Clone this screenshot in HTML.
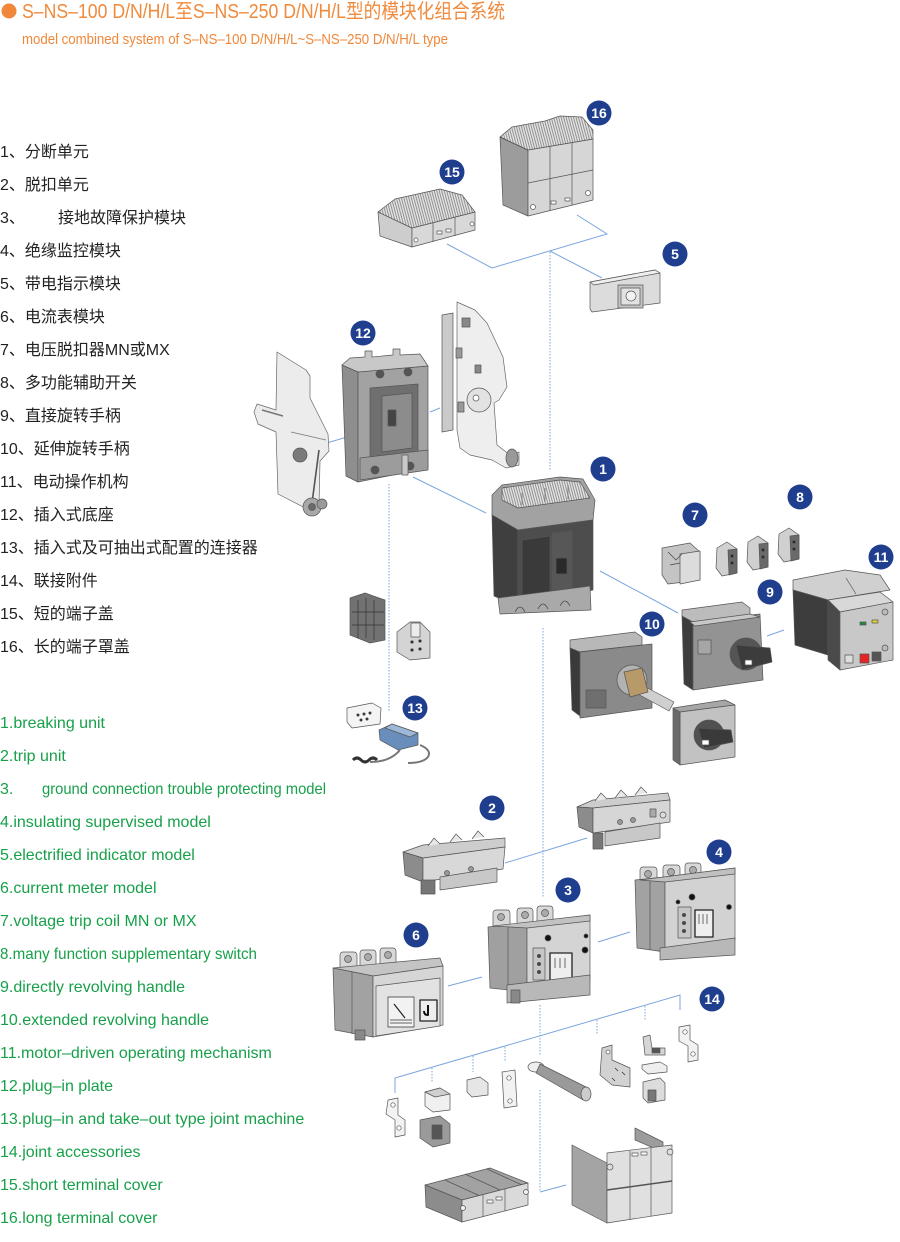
<!DOCTYPE html>
<html><head><meta charset="utf-8">
<style>
html,body{margin:0;padding:0;background:#fff;}
body{width:900px;height:1242px;position:relative;overflow:hidden;}
svg{position:absolute;left:0;top:0;}
</style></head>
<body>
<svg width="900" height="1242" viewBox="0 0 900 1242" xmlns="http://www.w3.org/2000/svg">
<defs>
<pattern id="rib" width="2.4" height="6" patternUnits="userSpaceOnUse" patternTransform="rotate(-15)"><rect width="2.4" height="6" fill="#e2e2e2"/><rect width="0.9" height="6" fill="#8a8a8a"/></pattern>
</defs>

<!-- Header -->
<circle cx="9" cy="11" r="7.5" fill="#f0873a"/>
<text x="22" y="18" font-size="20" fill="#f08a3c" textLength="483" lengthAdjust="spacingAndGlyphs" font-family="'Liberation Sans','Noto Sans CJK SC',sans-serif">S–NS–100 D/N/H/L至S–NS–250 D/N/H/L型的模块化组合系统</text>
<text x="22" y="44" font-size="15" fill="#f0883a" textLength="426" lengthAdjust="spacingAndGlyphs" font-family="'Liberation Sans',sans-serif">model combined system of S–NS–100 D/N/H/L~S–NS–250 D/N/H/L type</text>

<!-- Chinese list -->
<g font-size="16" fill="#222" font-family="'Liberation Sans','Noto Sans CJK SC',sans-serif">
<text x="0" y="157">1、分断单元</text>
<text x="0" y="190">2、脱扣单元</text>
<text x="0" y="223">3、</text><text x="58" y="223">接地故障保护模块</text>
<text x="0" y="256">4、绝缘监控模块</text>
<text x="0" y="289">5、带电指示模块</text>
<text x="0" y="322">6、电流表模块</text>
<text x="0" y="355">7、电压脱扣器MN或MX</text>
<text x="0" y="388">8、多功能辅助开关</text>
<text x="0" y="421">9、直接旋转手柄</text>
<text x="0" y="454">10、延伸旋转手柄</text>
<text x="0" y="487">11、电动操作机构</text>
<text x="0" y="520">12、插入式底座</text>
<text x="0" y="553">13、插入式及可抽出式配置的连接器</text>
<text x="0" y="586">14、联接附件</text>
<text x="0" y="619">15、短的端子盖</text>
<text x="0" y="652">16、长的端子罩盖</text>
</g>

<!-- English list -->
<g font-size="16" fill="#17a04a" font-family="'Liberation Sans',sans-serif">
<text x="0" y="728">1.breaking unit</text>
<text x="0" y="761">2.trip unit</text>
<text x="0" y="794">3.</text><text x="42" y="794" textLength="284" lengthAdjust="spacingAndGlyphs">ground connection trouble protecting model</text>
<text x="0" y="827">4.insulating supervised model</text>
<text x="0" y="860">5.electrified indicator model</text>
<text x="0" y="893">6.current meter model</text>
<text x="0" y="926">7.voltage trip coil MN or MX</text>
<text x="0" y="959" textLength="257" lengthAdjust="spacingAndGlyphs">8.many function supplementary switch</text>
<text x="0" y="992">9.directly revolving handle</text>
<text x="0" y="1025">10.extended revolving handle</text>
<text x="0" y="1058">11.motor–driven operating mechanism</text>
<text x="0" y="1091">12.plug–in plate</text>
<text x="0" y="1124">13.plug–in and take–out type joint machine</text>
<text x="0" y="1157">14.joint accessories</text>
<text x="0" y="1190">15.short terminal cover</text>
<text x="0" y="1223">16.long terminal cover</text>
</g>

<!-- Connectors -->
<g stroke="#7aa6dc" stroke-width="1" fill="none">
<polyline points="447,244 492,268 607,234 577,215"/>
<line x1="550" y1="251" x2="602" y2="278"/>
<line x1="550" y1="252" x2="550" y2="470" stroke-dasharray="1.5 1.5"/>
<line x1="320" y1="445" x2="347" y2="437"/>
<line x1="430" y1="412" x2="440" y2="408"/>
<line x1="413" y1="477" x2="486" y2="513"/>
<line x1="389" y1="484" x2="389" y2="712" stroke-dasharray="1.5 1.5"/>
<line x1="600" y1="571" x2="678" y2="613"/>
<line x1="767" y1="636" x2="784" y2="630"/>
<line x1="543" y1="628" x2="543" y2="898" stroke-dasharray="1.5 1.5"/>
<line x1="505" y1="863" x2="587" y2="838"/>
<line x1="448" y1="986" x2="482" y2="977"/>
<line x1="598" y1="942" x2="630" y2="932"/>
<line x1="540" y1="1005" x2="540" y2="1056" stroke-dasharray="1.5 1.5"/>
<line x1="540" y1="1090" x2="540" y2="1192" stroke-dasharray="1.5 1.5"/>
<line x1="540" y1="1192" x2="566" y2="1185"/>
<polyline points="395,1093 395,1078 680,995 680,1010"/>
<line x1="432" y1="1068" x2="432" y2="1083" stroke-dasharray="1.5 1.5"/>
<line x1="473" y1="1056" x2="473" y2="1072" stroke-dasharray="1.5 1.5"/>
<line x1="505" y1="1047" x2="505" y2="1062" stroke-dasharray="1.5 1.5"/>
<line x1="597" y1="1020" x2="597" y2="1035" stroke-dasharray="1.5 1.5"/>
<line x1="645" y1="1006" x2="645" y2="1021" stroke-dasharray="1.5 1.5"/>
</g>

<g stroke="#555" stroke-width="0.7" stroke-linejoin="round">
<!-- 16 long terminal cover -->
<polygon points="500,137 528,150 528,216 503,205" fill="#9c9c9c"/>
<polygon points="528,150 593,139 593,200 528,216" fill="#d6d6d6"/>
<polygon points="500,137 512,127 545,121 560,116 582,117 593,130 593,139 528,150" fill="url(#rib)"/>
<line x1="550" y1="146" x2="550" y2="211"/>
<line x1="572" y1="142" x2="572" y2="205"/>
<line x1="528" y1="183" x2="593" y2="170"/>
<line x1="500" y1="137" x2="528" y2="150"/>
<circle cx="533" cy="207" r="2.5" fill="#fff"/>
<circle cx="588" cy="193" r="2.5" fill="#fff"/>
<rect x="551" y="201" width="5" height="3" fill="#fff"/>
<rect x="565" y="198" width="5" height="3" fill="#fff"/>

<!-- 15 short terminal cover -->
<polygon points="378,212 412,228 412,247 380,236" fill="#cdcdcd"/>
<polygon points="412,228 475,212 475,230 412,247" fill="#d8d8d8"/>
<polygon points="378,212 395,199 440,189 462,195 475,212 412,228" fill="url(#rib)"/>
<line x1="433" y1="223" x2="433" y2="242"/>
<line x1="455" y1="217" x2="455" y2="236"/>
<rect x="437" y="231" width="5" height="3" fill="#fff"/>
<rect x="446" y="229" width="5" height="3" fill="#fff"/>
<circle cx="416" cy="240" r="2" fill="#fff"/>
<circle cx="472" cy="224" r="2" fill="#fff"/>

<!-- 5 module -->
<polygon points="590,282 655,270 660,273 660,303 592,312 590,309" fill="#dcdcdc"/>
<polygon points="590,282 655,270 660,273 594,285" fill="#efefef"/>
<rect x="618" y="285" width="25" height="23" fill="#c4c4c4"/>
<rect x="621" y="288" width="19" height="17" fill="#e2e2e2"/>
<circle cx="631" cy="296" r="5" fill="#f2f2f2"/>

<!-- 12 left plate -->
<polygon points="277,352 306,370 310,376 310,398 328,434 329,451 320,461 319,505 313,512 278,494 276,432 258,424 254,412 257,404 276,410" fill="#ececec" stroke="#666"/>
<line x1="262" y1="410" x2="283" y2="416" stroke="#777" stroke-width="1.5"/>
<line x1="291" y1="432" x2="326" y2="440" stroke="#777"/>
<line x1="319" y1="450" x2="312" y2="503" stroke="#555" stroke-width="1.6"/>
<ellipse cx="300" cy="455" rx="7" ry="7" fill="#7a7a7a"/>
<circle cx="312" cy="507" r="9" fill="#a8a8a8"/>
<circle cx="312" cy="507" r="3.5" fill="#6a6a6a"/>
<circle cx="322" cy="504" r="5" fill="#9a9a9a"/>

<!-- 12 base -->
<polygon points="342,365 358,372 358,482 346,476" fill="#8e8e8e"/>
<polygon points="358,372 428,366 428,468 358,482" fill="#a2a2a2"/>
<polygon points="342,365 350,358 365,357 365,351 372,351 372,357 393,355 393,349 400,349 400,355 420,354 428,366 358,372" fill="#c8c8c8"/>
<polygon points="370,388 418,384 418,452 370,458" fill="#6f6f6f"/>
<polygon points="382,396 412,393 412,448 382,452" fill="#8c8c8c"/>
<polygon points="360,458 428,450 428,470 360,480" fill="#9c9c9c"/>
<circle cx="380" cy="374" r="4" fill="#555"/>
<circle cx="408" cy="372" r="4" fill="#555"/>
<circle cx="375" cy="470" r="4" fill="#555"/>
<circle cx="410" cy="466" r="4" fill="#555"/>
<rect x="388" y="410" width="8" height="16" fill="#444"/>
<rect x="402" y="455" width="6" height="20" fill="#c8c8c8"/>

<!-- 12 right mechanism -->
<polygon points="442,315 453,313 453,430 442,432" fill="#cacaca"/>
<polygon points="457,302 475,310 487,323 503,357 507,387 499,400 494,403 497,445 510,455 519,452 519,465 506,468 492,460 470,455 460,448 457,430" fill="#eeeeee" stroke="#666"/>
<circle cx="479" cy="400" r="12" fill="#e2e2e2"/>
<circle cx="476" cy="398" r="3" fill="#fff"/>
<ellipse cx="512" cy="458" rx="6" ry="9" fill="#999"/>
<rect x="462" y="318" width="8" height="9" fill="#888"/>
<rect x="456" y="348" width="6" height="10" fill="#999"/>
<rect x="458" y="402" width="6" height="10" fill="#999"/>
<rect x="475" y="365" width="6" height="8" fill="#888"/>

<!-- 1 breaker -->
<polygon points="492,495 502,485 560,477 583,479 595,500 593,520 518,530 492,515" fill="#a2a2a2"/>
<polygon points="502,488 560,480 580,482 590,498 518,508 502,500" fill="url(#rib)"/>
<path d="M522,505 v-12 M545,502 v-14 M568,499 v-14" stroke="#666"/>
<polygon points="492,515 518,530 518,606 494,596" fill="#3f3f3f"/>
<polygon points="518,530 593,520 593,590 518,604" fill="#4d4d4d"/>
<polygon points="522,540 550,536 550,592 522,597" fill="#3a3a3a"/>
<polygon points="552,533 572,531 572,588 552,591" fill="#575757"/>
<rect x="556" y="558" width="11" height="16" fill="#2a2a2a"/>
<polygon points="498,598 590,586 591,610 500,614" fill="#a9a9a9"/>
<path d="M515,612 q5,-10 10,0 M538,609 q5,-10 10,0 M560,606 q5,-10 10,0" fill="none" stroke="#444"/>

<!-- 7 -->
<polygon points="662,548 690,543 700,552 700,580 668,584 662,575" fill="#c4c4c4"/>
<polygon points="680,554 700,551 700,580 680,584" fill="#dcdcdc"/>
<path d="M668,552 l8,8 l6,-6 M670,565 l10,-2" fill="none" stroke="#444"/>

<!-- 8 -->
<g id="b8">
<polygon points="717,548 727,542 737,549 737,573 722,576 716,568" fill="#d0d0d0"/>
<polygon points="728,550 737,549 737,573 729,575" fill="#6a6a6a"/>
<circle cx="732" cy="556" r="1.5" fill="#222"/><circle cx="732" cy="563" r="1.5" fill="#222"/>
</g>
<use href="#b8" transform="translate(31,-6)"/>
<use href="#b8" transform="translate(62,-14)"/>

<!-- 11 motor -->
<polygon points="793,580 845,570 880,575 890,590 828,600 793,590" fill="#d0d0d0"/>
<polygon points="793,590 828,600 828,655 795,645" fill="#3d3d3d"/>
<polygon points="828,600 880,592 893,602 840,612" fill="#d8d8d8"/>
<polygon points="828,600 840,612 840,670 828,660" fill="#4a4a4a"/>
<polygon points="840,612 893,602 893,660 840,670" fill="#c8c8c8"/>
<line x1="846" y1="578" x2="856" y2="594"/>
<rect x="860" y="622" width="6" height="3" fill="#1c8a3c"/>
<rect x="872" y="620" width="6" height="3" fill="#e3d52a"/>
<rect x="860" y="654" width="9" height="9" fill="#e52424"/>
<rect x="872" y="652" width="9" height="9" fill="#555"/>
<rect x="845" y="655" width="8" height="8" fill="#ddd"/>
<circle cx="885" cy="612" r="3" fill="#bbb"/>
<circle cx="885" cy="648" r="3" fill="#bbb"/>

<!-- 9 handle -->
<polygon points="682,610 742,602 750,608 750,616 690,622 682,616" fill="#bcbcbc"/>
<polygon points="682,616 693,622 693,690 684,684" fill="#3d3d3d"/>
<polygon points="693,622 760,614 763,680 693,690" fill="#939393"/>
<polygon points="690,622 750,614 760,617 695,626" fill="#c9c9c9"/>
<rect x="698" y="640" width="13" height="14" fill="#a6a6a6"/>
<circle cx="746" cy="654" r="16" fill="#555"/>
<polygon points="736,645 770,648 772,662 742,670" fill="#3c3c3c"/>
<rect x="745" y="660" width="7" height="5" fill="#fff"/>

<!-- 10 extended handle -->
<polygon points="570,640 635,632 642,637 642,645 578,652 570,648" fill="#b8b8b8"/>
<polygon points="570,648 580,652 580,716 572,710" fill="#3a3a3a"/>
<polygon points="580,652 652,644 652,708 580,718" fill="#8a8a8a"/>
<rect x="586" y="690" width="20" height="18" fill="#6f6f6f"/>
<circle cx="632" cy="680" r="15" fill="#b2b2b2"/>
<polygon points="640,684 674,702 669,711 636,693" fill="#cfcfcf"/>
<polygon points="624,672 642,668 648,692 630,697" fill="#b89a6a"/>

<!-- 10 handle plate -->
<polygon points="673,708 725,700 735,705 680,712" fill="#a6a6a6"/>
<polygon points="680,712 735,705 735,757 680,765" fill="#c2c2c2"/>
<polygon points="673,708 680,712 680,765 673,760" fill="#6b6b6b"/>
<circle cx="709" cy="735" r="15" fill="#505050"/>
<polygon points="698,728 731,730 733,742 704,748" fill="#3a3a3a"/>
<rect x="702" y="740" width="7" height="5" fill="#fff"/>

<!-- 13 parts -->
<polygon points="350,598 365,593 385,600 385,640 370,643 350,635" fill="#727272"/>
<path d="M358,600 v38 M366,598 v40 M374,600 v40 M352,612 h32 M352,625 h32" fill="none" stroke="#333"/>
<polygon points="397,632 410,622 420,622 430,632 430,658 410,660 397,652" fill="#d4d4d4"/>
<rect x="411" y="623" width="9" height="14" fill="#ececec"/>
<circle cx="412" cy="642" r="1.3" fill="#222"/><circle cx="420" cy="641" r="1.3" fill="#222"/><circle cx="412" cy="650" r="1.3" fill="#222"/><circle cx="420" cy="649" r="1.3" fill="#222"/>
<polygon points="347,708 372,703 381,708 380,724 352,728 347,722" fill="#f4f4f4"/>
<circle cx="358" cy="715" r="1.2" fill="#222"/><circle cx="364" cy="714" r="1.2" fill="#222"/><circle cx="370" cy="713" r="1.2" fill="#222"/><circle cx="361" cy="720" r="1.2" fill="#222"/><circle cx="367" cy="719" r="1.2" fill="#222"/>
<polygon points="379,730 392,724 418,733 418,745 398,750 380,740" fill="#6a8ebb"/>
<polygon points="392,724 418,733 410,737 385,728" fill="#9cb8d9"/>
<path d="M400,750 q-10,12 -30,12 M420,745 q12,5 8,12 q-5,6 -20,6" fill="none" stroke="#777" stroke-width="2"/>
<path d="M353,760 q4,-4 8,0 q4,4 8,0 q4,-4 8,0" fill="none" stroke="#333" stroke-width="3"/>

<!-- 2 trip unit -->
<polygon points="403,852 423,845 505,838 505,847 423,858" fill="#cdcdcd"/>
<polygon points="403,852 423,858 423,882 405,875" fill="#8c8c8c"/>
<polygon points="423,858 505,847 503,869 423,882" fill="#d8d8d8"/>
<path d="M428,846 l6,-8 l6,6 M450,842 l6,-8 l6,6 M472,839 l6,-8 l6,6" fill="#e8e8e8"/>
<circle cx="447" cy="873" r="2.5" fill="#999"/>
<circle cx="471" cy="869" r="2.5" fill="#999"/>
<rect x="421" y="880" width="14" height="14" fill="#777"/>
<polygon points="440,877 497,868 497,882 440,890" fill="#c8c8c8"/>

<!-- upper trip unit (2) -->
<polygon points="577,807 593,800 668,793 670,800 593,808" fill="#cdcdcd"/>
<polygon points="577,807 593,808 593,833 579,827" fill="#8c8c8c"/>
<polygon points="593,808 670,800 670,822 593,833" fill="#d6d6d6"/>
<path d="M595,801 l6,-8 l6,6 M615,798 l6,-8 l6,6 M635,795 l6,-8 l6,6" fill="#e8e8e8"/>
<circle cx="620" cy="822" r="2.5" fill="#999"/>
<circle cx="633" cy="820" r="2.5" fill="#999"/>
<rect x="650" y="809" width="6" height="8" fill="#aaa"/>
<circle cx="663" cy="815" r="3" fill="#ddd"/>
<rect x="593" y="833" width="10" height="16" fill="#777"/>
<polygon points="605,832 660,823 660,838 605,846" fill="#c8c8c8"/>

<!-- 4 -->
<rect x="640" y="867" width="17" height="18" rx="3" fill="#d8d8d8"/>
<rect x="663" y="865" width="17" height="18" rx="3" fill="#d8d8d8"/>
<rect x="685" y="863" width="16" height="18" rx="3" fill="#d8d8d8"/>
<circle cx="648" cy="874" r="3.5" fill="#aaa"/><circle cx="671" cy="872" r="3.5" fill="#aaa"/><circle cx="693" cy="870" r="3.5" fill="#aaa"/>
<polygon points="635,880 665,877 665,952 637,948" fill="#a2a2a2"/>
<line x1="650" y1="880" x2="650" y2="950"/>
<polygon points="665,877 735,868 735,940 665,952" fill="#d2d2d2"/>
<polygon points="640,880 735,868 735,874 665,882" fill="#c0c0c0"/>
<circle cx="692" cy="897" r="3" fill="#111"/>
<circle cx="729" cy="907" r="2.5" fill="#111"/>
<circle cx="678" cy="902" r="2" fill="#111"/>
<rect x="678" y="907" width="13" height="31" fill="#c6c6c6"/>
<circle cx="684" cy="915" r="1.7" fill="#444"/><circle cx="684" cy="923" r="1.7" fill="#444"/><circle cx="684" cy="931" r="1.7" fill="#444"/>
<rect x="695" y="910" width="18" height="27" fill="#eee" stroke="#222" stroke-width="1.3"/>
<path d="M699,914 v10 M703,914 v10 M707,914 v10" stroke="#333"/>
<polygon points="660,948 735,938 735,955 660,960" fill="#b8b8b8"/>

<!-- 3 -->
<rect x="493" y="910" width="17" height="20" rx="3" fill="#d8d8d8"/>
<rect x="517" y="908" width="16" height="20" rx="3" fill="#d8d8d8"/>
<rect x="537" y="906" width="16" height="20" rx="3" fill="#d8d8d8"/>
<circle cx="501" cy="917" r="3.5" fill="#aaa"/><circle cx="525" cy="915" r="3.5" fill="#aaa"/><circle cx="545" cy="913" r="3.5" fill="#aaa"/>
<polygon points="488,927 527,923 527,992 490,988" fill="#a0a0a0"/>
<line x1="508" y1="926" x2="508" y2="990"/>
<polygon points="527,923 590,915 590,980 527,992" fill="#d4d4d4"/>
<polygon points="493,926 590,915 590,921 527,928" fill="#c2c2c2"/>
<circle cx="548" cy="938" r="3" fill="#111"/>
<circle cx="586" cy="936" r="2" fill="#111"/>
<circle cx="585" cy="950" r="3" fill="#111"/>
<rect x="533" y="948" width="12" height="32" fill="#c6c6c6"/>
<circle cx="539" cy="956" r="1.7" fill="#444"/><circle cx="539" cy="964" r="1.7" fill="#444"/><circle cx="539" cy="972" r="1.7" fill="#444"/>
<rect x="550" y="953" width="22" height="30" fill="#eee" stroke="#222" stroke-width="1.3"/>
<path d="M555,958 v10 M560,958 v10 M565,958 v10" stroke="#333"/>
<polygon points="507,985 590,975 590,995 507,1003" fill="#b8b8b8"/>
<rect x="511" y="990" width="9" height="13" fill="#888"/>

<!-- 6 -->
<rect x="340" y="952" width="17" height="20" rx="3" fill="#d8d8d8"/>
<rect x="360" y="950" width="16" height="20" rx="3" fill="#d8d8d8"/>
<rect x="380" y="948" width="16" height="20" rx="3" fill="#d8d8d8"/>
<circle cx="348" cy="959" r="3.5" fill="#aaa"/><circle cx="368" cy="957" r="3.5" fill="#aaa"/><circle cx="388" cy="955" r="3.5" fill="#aaa"/>
<polygon points="333,968 440,958 443,966 373,976" fill="#c4c4c4"/>
<polygon points="333,968 373,976 373,1037 335,1030" fill="#a2a2a2"/>
<line x1="352" y1="972" x2="352" y2="1034"/>
<polygon points="373,976 443,966 443,1025 373,1037" fill="#d6d6d6"/>
<polygon points="376,986 440,978 440,1026 376,1036" fill="#e2e2e2"/>
<rect x="388" y="997" width="26" height="30" fill="#f2f2f2" stroke="#333"/>
<line x1="394" y1="1004" x2="405" y2="1018" stroke="#222" stroke-width="1.2"/>
<path d="M390,1020 h22 M390,1023 h22" stroke="#333"/>
<rect x="420" y="1000" width="17" height="21" fill="#eee" stroke="#222" stroke-width="1.3"/>
<path d="M428,1005 v10 q-4,0 -4,-4" fill="none" stroke="#111" stroke-width="2"/>
<rect x="355" y="1030" width="10" height="10" fill="#888"/>

<!-- 14 accessories -->
<polygon points="388,1100 398,1098 398,1115 405,1120 405,1135 395,1137 395,1120 386,1114" fill="#f2f2f2"/>
<circle cx="393" cy="1105" r="2.2" fill="#fff"/><circle cx="399" cy="1128" r="2.2" fill="#fff"/>
<polygon points="425,1092 440,1088 450,1094 450,1110 433,1112 425,1106" fill="#f0f0f0"/>
<polygon points="425,1092 440,1088 450,1094 435,1097" fill="#cfcfcf"/>
<polygon points="420,1120 440,1116 450,1124 450,1143 433,1147 420,1138" fill="#9a9a9a"/>
<rect x="432" y="1125" width="10" height="14" fill="#555"/>
<polygon points="467,1080 480,1077 488,1083 488,1095 472,1097 467,1092" fill="#e6e6e6"/>
<polygon points="502,1072 515,1070 517,1106 504,1108" fill="#f2f2f2"/>
<circle cx="509" cy="1078" r="2.2" fill="#fff"/><circle cx="510" cy="1101" r="2.2" fill="#fff"/>
<ellipse cx="536" cy="1067" rx="8" ry="5" fill="#eee"/>
<polygon points="540,1064 588,1088 583,1100 536,1073" fill="#9a9a9a"/>
<ellipse cx="586" cy="1094" rx="5" ry="7" fill="#ccc"/>
<polygon points="602,1048 612,1045 612,1060 630,1068 630,1087 612,1085 600,1075" fill="#d2d2d2"/>
<circle cx="608" cy="1052" r="2" fill="#fff"/>
<path d="M615,1068 l3,3 M622,1072 l3,3 M612,1078 l3,3" stroke="#222"/>
<polygon points="643,1037 650,1035 652,1048 665,1048 665,1055 645,1055" fill="#d6d6d6"/>
<rect x="652" y="1048" width="8" height="5" fill="#555"/>
<polygon points="642,1065 660,1062 667,1066 667,1072 648,1074 642,1069" fill="#eee"/>
<polygon points="643,1082 660,1078 665,1083 665,1100 648,1103 643,1098" fill="#dcdcdc"/>
<rect x="648" y="1090" width="8" height="11" fill="#777"/>
<polygon points="679,1027 690,1025 690,1040 698,1045 698,1060 688,1062 688,1046 679,1041" fill="#f2f2f2"/>
<circle cx="685" cy="1032" r="2.2" fill="#fff"/><circle cx="693" cy="1054" r="2.2" fill="#fff"/>

<!-- short cover bottom -->
<polygon points="425,1185 490,1168 528,1183 462,1200" fill="#a2a2a2"/>
<path d="M445,1180 l35,16 M465,1174 l35,16 M487,1169 l35,16" stroke="#555"/>
<polygon points="425,1185 462,1200 462,1222 426,1207" fill="#8c8c8c"/>
<polygon points="462,1200 528,1183 528,1205 462,1222" fill="#dadada"/>
<line x1="483" y1="1195" x2="483" y2="1217"/>
<line x1="505" y1="1189" x2="505" y2="1211"/>
<rect x="487" y="1200" width="6" height="3" fill="#fff"/><rect x="496" y="1197" width="6" height="3" fill="#fff"/>
<circle cx="463" cy="1208" r="2.5" fill="#eee"/><circle cx="526" cy="1192" r="2.5" fill="#eee"/>

<!-- long cover bottom -->
<polygon points="572,1145 607,1163 607,1223 572,1205" fill="#a4a4a4"/>
<polygon points="635,1128 663,1142 663,1152 635,1140" fill="#9c9c9c"/>
<polygon points="607,1153 672,1145 672,1213 607,1223" fill="#e0e0e0"/>
<line x1="630" y1="1151" x2="630" y2="1220"/>
<line x1="651" y1="1148" x2="651" y2="1216"/>
<line x1="607" y1="1190" x2="672" y2="1181" stroke-width="1.4"/>
<rect x="632" y="1153" width="6" height="3" fill="#fff"/><rect x="641" y="1152" width="6" height="3" fill="#fff"/>
<circle cx="610" cy="1167" r="3" fill="#ddd"/><circle cx="670" cy="1152" r="3" fill="#ddd"/>
</g>

<!-- Badges -->
<g fill="#1f3e8e">
<circle cx="599" cy="113" r="12.5"/>
<circle cx="452" cy="172" r="12.5"/>
<circle cx="675" cy="254" r="12.5"/>
<circle cx="363" cy="333" r="12.5"/>
<circle cx="603" cy="469" r="12.5"/>
<circle cx="800" cy="497" r="12.5"/>
<circle cx="695" cy="515" r="12.5"/>
<circle cx="881" cy="557" r="12.5"/>
<circle cx="770" cy="592" r="12.5"/>
<circle cx="652" cy="624" r="12.5"/>
<circle cx="415" cy="708" r="12.5"/>
<circle cx="492" cy="808" r="12.5"/>
<circle cx="719" cy="852" r="12.5"/>
<circle cx="568" cy="890" r="12.5"/>
<circle cx="416" cy="935" r="12.5"/>
<circle cx="712" cy="999" r="12.5"/>
</g>
<g fill="#fff" font-size="14" font-weight="bold" text-anchor="middle" font-family="'Liberation Sans',sans-serif">
<text x="599" y="118">16</text>
<text x="452" y="177">15</text>
<text x="675" y="259">5</text>
<text x="363" y="338">12</text>
<text x="603" y="474">1</text>
<text x="800" y="502">8</text>
<text x="695" y="520">7</text>
<text x="881" y="562">11</text>
<text x="770" y="597">9</text>
<text x="652" y="629">10</text>
<text x="415" y="713">13</text>
<text x="492" y="813">2</text>
<text x="719" y="857">4</text>
<text x="568" y="895">3</text>
<text x="416" y="940">6</text>
<text x="712" y="1004">14</text>
</g>
</svg>
</body></html>
